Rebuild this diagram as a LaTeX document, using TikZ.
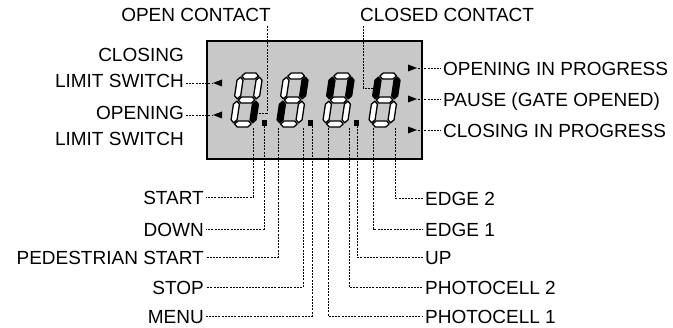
\documentclass[tikz,border=0pt]{standalone}
\usepackage{fontspec}
\setmainfont{Liberation Sans}

\definecolor{lcdgray}{RGB}{200,200,200}

% one segment of the display, horizontal or vertical
\newcommand{\hseg}[4]{\draw[#1] (#2,#4) -- ++(3,-3) -- ({#3-3},{#4-3}) -- (#3,#4) -- ({#3-3},{#4+3}) -- ({#2+3},{#4+3}) -- cycle;}
\newcommand{\vseg}[4]{\draw[#1] (#4,#2) -- ++(3,-3) -- ({#4+3},{#3+3}) -- (#4,#3) -- ({#4-3},{#3+3}) -- ({#4-3},{#2-3}) -- cycle;}

\begin{document}
\begin{tikzpicture}[x=1pt, y=-1pt,
    % Define the styles for the display segments
    seg/.style={draw=black, fill=white, line width=1.3pt, line join=round},
    segon/.style={fill=black},
    seg a/.style={}, seg b/.style={}, seg c/.style={}, seg d/.style={},
    seg e/.style={}, seg f/.style={}, seg g/.style={},
    lcd/.pic={
        \begin{scope}[xslant=0.15]
        \hseg{seg, seg a}{4.2}{20.8}{-51}
        \vseg{seg, seg b}{-28.2}{-49.8}{22}
        \vseg{seg, seg c}{-4.2}{-25.8}{22}
        \hseg{seg, seg d}{4.2}{20.8}{-3}
        \vseg{seg, seg e}{-4.2}{-25.8}{3}
        \vseg{seg, seg f}{-28.2}{-49.8}{3}
        \hseg{seg, seg g}{4.2}{20.8}{-27}
        \end{scope}
    },
    % Define the styles for the labels and the dashed leads
    lbl/.style={font=\fontsize{19}{26}\selectfont, inner sep=2pt},
    tag/.style={lbl, text height=16pt, text depth=0pt},
    conn/.style={dash pattern=on 2pt off 1.2pt, line width=0.8pt}
]
\useasboundingbox (0,0) rectangle (673,328);

% The display
\draw[line width=2pt, fill=lcdgray] (207,41) rectangle (422,159);
\pic[seg c/.style=segon] at (230,127) {lcd};
\pic[seg b/.style=segon, seg e/.style=segon] at (276,127) {lcd};
\pic[seg b/.style=segon, seg f/.style=segon] at (322,127) {lcd};
\pic[seg b/.style=segon, seg f/.style=segon] at (368,127) {lcd};

% Decimal points
\fill (262,120) rectangle (267,126);
\fill (308,120) rectangle (313,126);
\fill (354,120) rectangle (359,126);

% Triangle marks
\fill (213,83) -- (222,79.5) -- (222,86.5) -- cycle;
\fill (213,115) -- (222,111.5) -- (222,118.5) -- cycle;
\fill (417,68) -- (408,64.5) -- (408,71.5) -- cycle;
\fill (417,99) -- (408,95.5) -- (408,102.5) -- cycle;
\fill (417,130) -- (408,126.5) -- (408,133.5) -- cycle;

% Ends of the leads on the display
\coordinate (la1) at (213,83);
\coordinate (la2) at (213,115);
\coordinate (ra1) at (418,68);
\coordinate (ra2) at (418,99);
\coordinate (ra3) at (418,130);
\coordinate (p-oc) at (259,113);
\coordinate (p-cc) at (373,88);
\coordinate (p-start) at (253,128);
\coordinate (p-down) at (264,126);
\coordinate (p-ped) at (278,128);
\coordinate (p-stop) at (303,128);
\coordinate (p-menu) at (312,126);
\coordinate (p-ph1) at (328,128);
\coordinate (p-ph2) at (349,128);
\coordinate (p-up) at (357,126);
\coordinate (p-edge1) at (373,128);
\coordinate (p-edge2) at (395,128);

% The labels
\node[lbl, anchor=base east] (open) at (273,22) {OPEN CONTACT};
\node[lbl, anchor=base west] (closed) at (358,22) {CLOSED CONTACT};
\node[lbl, align=right, anchor=north east] (cls) at (186,46) {CLOSING\\LIMIT SWITCH};
\node[lbl, align=right, anchor=north east] (ols) at (186,104) {OPENING\\LIMIT SWITCH};
\node[tag, anchor=west] (opening) at (441,68) {OPENING IN PROGRESS};
\node[tag, anchor=west] (pause) at (441,99) {PAUSE (GATE OPENED)};
\node[tag, anchor=west] (closing) at (441,130) {CLOSING IN PROGRESS};

\node[tag, anchor=east] (start) at (206,197) {START};
\node[tag, anchor=east] (down) at (206,229) {DOWN};
\node[tag, anchor=east] (ped) at (206,257) {PEDESTRIAN START};
\node[tag, anchor=east] (stop) at (206,287) {STOP};
\node[tag, anchor=east] (menu) at (206,316) {MENU};
\node[tag, anchor=west] (edge2) at (423,198) {EDGE 2};
\node[tag, anchor=west] (edge1) at (423,229) {EDGE 1};
\node[tag, anchor=west] (up) at (423,257) {UP};
\node[tag, anchor=west] (ph2) at (423,287) {PHOTOCELL 2};
\node[tag, anchor=west] (ph1) at (423,316) {PHOTOCELL 1};

% Draw the dashed leads
\draw[conn] (p-oc) -| ([xshift=-6pt, yshift=-3pt]open.base east);
\draw[conn] (p-cc) -| ([xshift=5pt, yshift=-3pt]closed.base west);
\draw[conn] (cls.east |- la1) -- (la1);
\draw[conn] (ols.east |- la2) -- (la2);
\draw[conn] (ra1) -- (opening.west);
\draw[conn] (ra2) -- (pause.west);
\draw[conn] (ra3) -- (closing.west);

\draw[conn] (p-start) |- (start.east);
\draw[conn] (p-down) |- (down.east);
\draw[conn] (p-ped) |- (ped.east);
\draw[conn] (p-stop) |- (stop.east);
\draw[conn] (p-menu) |- (menu.east);
\draw[conn] (p-ph1) |- (ph1.west);
\draw[conn] (p-ph2) |- (ph2.west);
\draw[conn] (p-up) |- (up.west);
\draw[conn] (p-edge1) |- (edge1.west);
\draw[conn] (p-edge2) |- (edge2.west);

\end{tikzpicture}
\end{document}
